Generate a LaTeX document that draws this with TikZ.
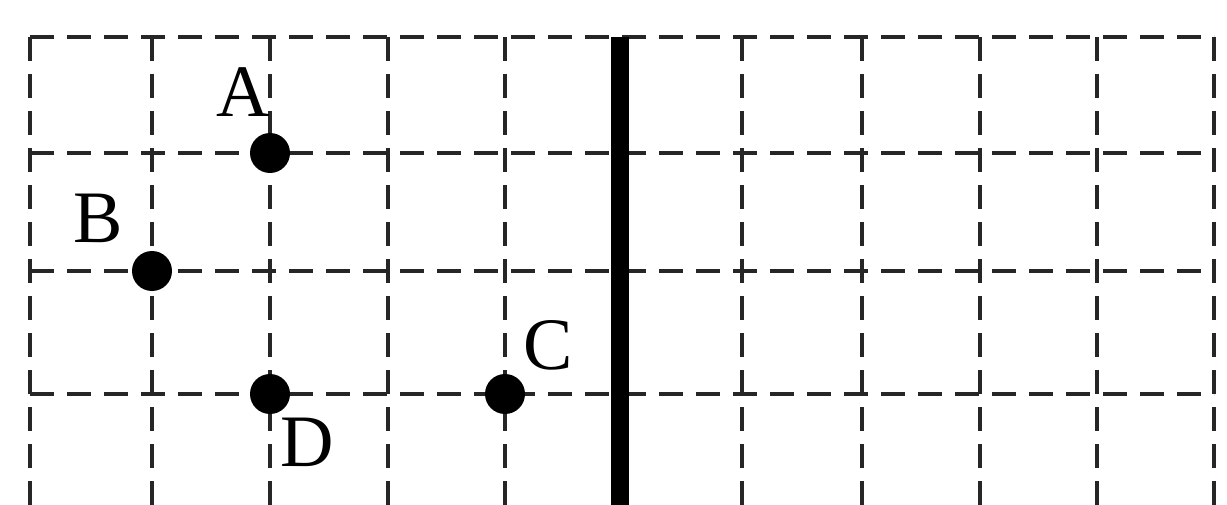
\documentclass[tikz,border=0pt]{standalone}
\usepackage{fontspec}
\setmainfont{Liberation Serif}
\tikzset{
  gridline/.style={line width=3.6pt, dash pattern=on 24pt off 13pt, black!85},
  axisline/.style={line width=18pt, black},
  ptdot/.style={circle, fill=black, inner sep=0pt, minimum size=40pt},
  ptlabel/.style={inner sep=0pt, font=\fontsize{74}{74}\selectfont}
}
\begin{document}
\begin{tikzpicture}[x=1pt,y=-1pt]
\useasboundingbox (0,0) rectangle (1227,505);
% horizontal grid lines
\foreach \y in {37,153,271,394} {
  \draw[gridline] (30,\y) -- (1214,\y);
}
% vertical grid lines
\foreach \x in {30,152,270,388,505,742,862,980,1097,1214} {
  \draw[gridline] (\x,37) -- (\x,505);
}
% thick line
\coordinate (top) at (620,37);
\coordinate (bot) at (620,505);
\draw[axisline] (top) -- (bot);
% points
\node[ptdot] (A) at (270,153) {};
\node[ptdot] (B) at (152,271) {};
\node[ptdot] (C) at (505,394) {};
\node[ptdot] (D) at (270,394) {};
\node[ptlabel] (lA) at (243,92) {A};
\node[ptlabel] (lB) at (98,218) {B};
\node[ptlabel] (lC) at (548,345) {C};
\node[ptlabel] (lD) at (307,442) {D};
\end{tikzpicture}
\end{document}
